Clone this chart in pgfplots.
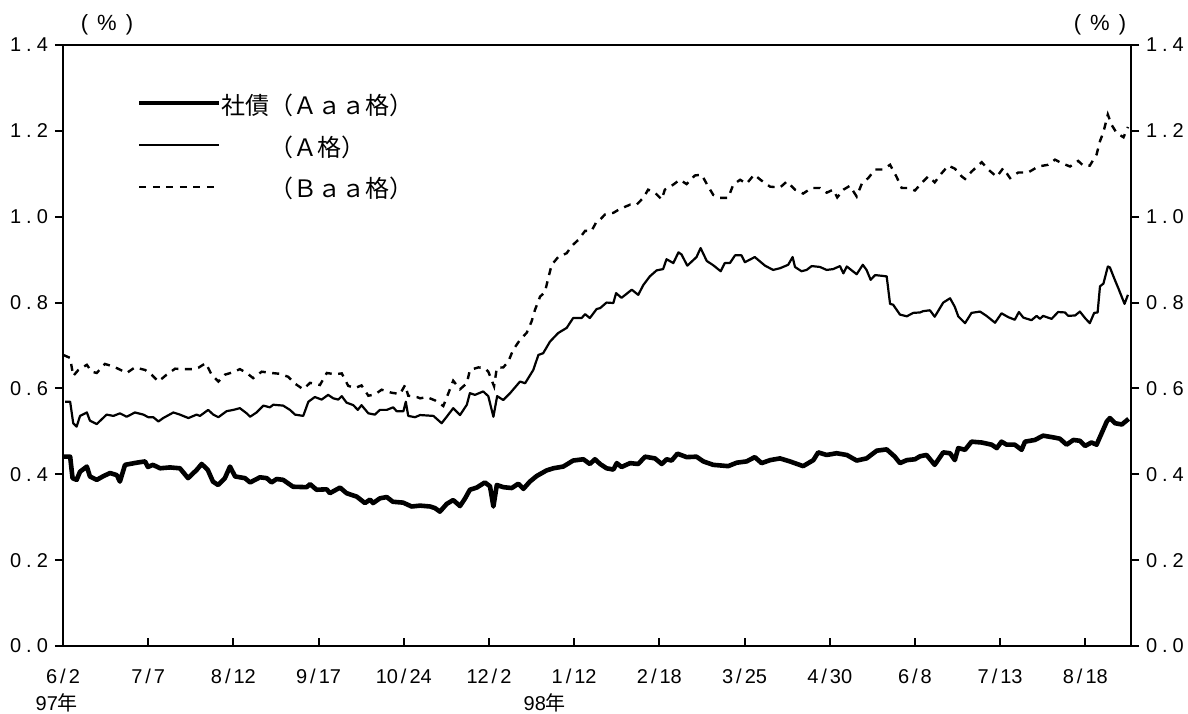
\documentclass[border=0pt]{standalone}
\usepackage{pgfplots}
\pgfplotsset{compat=1.18}
\usepackage{fontspec}
\setmainfont{Liberation Sans}
\newfontfamily\cjk{Noto Sans CJK JP}
\newcommand{\mydt}{\hspace{2.5pt}.\hspace{2.5pt}}
\newcommand{\mysl}{\hspace{1.5pt}/\hspace{1.5pt}}
\begin{document}
\begin{tikzpicture}
\begin{axis}[
  scale only axis, width=534pt, height=300.5pt,
  xmin=0, xmax=313.4, ymin=0, ymax=1.4,
  axis line style={line width=1.3pt},
  tick align=outside, major tick length=4pt,
  tick style={black, line width=1pt},
  xtick pos=bottom, ytick pos=both, yticklabel pos=left,
  xtick style={yshift=4pt},
  xtick={0,25,50,75,100,125,150,175,200,225,250,275,300},
  xticklabels={6\mysl 2,7\mysl 7,8\mysl 12,9\mysl 17,10\mysl 24,12\mysl 2,1\mysl 12,2\mysl 18,3\mysl 25,4\mysl 30,6\mysl 8,7\mysl 13,8\mysl 18},
  xticklabel style={anchor=center, yshift=-11pt, font=\fontsize{10}{11}\selectfont},
  ytick={0,0.2,0.4,0.6,0.8,1.0,1.2,1.4},
  yticklabels={0\mydt 0,0\mydt 2,0\mydt 4,0\mydt 6,0\mydt 8,1\mydt 0,1\mydt 2,1\mydt 4},
  yticklabel style={font=\fontsize{10}{11}\selectfont},
  legend style={at={(rel axis cs:0,1)}, anchor=north west, xshift=37pt, yshift=-18.5pt,
    draw=none, fill=none, inner sep=0pt, outer sep=0pt, row sep=0pt, column sep=0pt,
    nodes={inner sep=0pt, text height=16pt, text depth=5pt, font=\cjk\fontsize{12}{12}\selectfont},
    cells={anchor=west}},
  legend image code/.code={\path (0pt,-5.5pt); \draw[#1] (0pt,0pt) -- (40pt,0pt);},
  legend cell align=left,
  clip=false,
]
\addplot[black, line width=2.3pt, line join=round] coordinates {
(0,0.441)(2.1,0.441)(2.8,0.391)(4.0,0.387)(5.0,0.406)(7.0,0.418)(7.9,0.395)(9.9,0.387)(11.7,0.395)(13.8,0.403)
(15.8,0.398)(16.7,0.383)(18.2,0.422)(21.6,0.427)(24.1,0.430)(24.9,0.417)(26.4,0.422)(28.5,0.414)(31.4,0.416)(34.3,0.414)
(36.7,0.391)(39.2,0.410)(40.7,0.424)(42.5,0.410)(44.0,0.383)(45.5,0.375)(47.5,0.391)(49.0,0.418)(50.5,0.395)(51.9,0.393)
(53.4,0.391)(54.9,0.381)(57.8,0.393)(59.8,0.391)(61.2,0.381)(62.7,0.389)(64.6,0.387)(67.5,0.371)(71.5,0.370)(72.5,0.377)
(74.4,0.364)(77.4,0.365)(78.3,0.356)(81.3,0.369)(83.2,0.356)(86.2,0.348)(88.6,0.333)(90.1,0.341)(91.0,0.333)(93.0,0.344)
(95.0,0.347)(96.8,0.336)(99.8,0.334)(102.3,0.325)(104.8,0.327)(107.7,0.325)(109.2,0.321)(110.6,0.313)(112.6,0.331)(114.5,0.340)
(116.5,0.326)(118.0,0.344)(119.4,0.364)(121.4,0.369)(123.8,0.381)(125.3,0.372)(126.3,0.325)(127.3,0.375)(129.2,0.370)(131.7,0.368)
(133.6,0.378)(135.1,0.366)(137.0,0.383)(139.0,0.396)(141.9,0.409)(143.9,0.414)(146.8,0.418)(149.7,0.432)(152.7,0.435)(154.6,0.424)
(156.1,0.435)(157.6,0.424)(159.5,0.414)(161.5,0.411)(162.5,0.426)(163.9,0.417)(166.4,0.426)(168.8,0.424)(170.8,0.441)(173.7,0.437)
(175.7,0.424)(177.1,0.435)(178.6,0.432)(180.3,0.448)(183.0,0.440)(185.9,0.441)(187.9,0.430)(190.8,0.422)(195.2,0.419)(197.7,0.427)
(200.6,0.430)(203.0,0.440)(205.0,0.426)(207.5,0.433)(210.4,0.437)(213.3,0.430)(217.2,0.419)(220.2,0.433)(221.6,0.451)(224.1,0.445)
(227.0,0.449)(230.0,0.445)(232.9,0.432)(235.8,0.437)(238.8,0.455)(241.7,0.458)(244.1,0.441)(245.6,0.426)(247.6,0.433)(250.0,0.435)
(251.5,0.442)(253.4,0.445)(255.8,0.422)(258.3,0.451)(260.3,0.449)(261.7,0.433)(262.7,0.461)(264.7,0.457)(266.6,0.476)(269.6,0.474)
(272.5,0.469)(274.0,0.461)(275.4,0.476)(276.9,0.469)(279.3,0.469)(281.3,0.457)(282.3,0.476)(285.2,0.480)(287.6,0.490)(290.6,0.486)
(292.5,0.483)(294.5,0.469)(296.5,0.480)(298.4,0.478)(299.9,0.466)(301.8,0.474)(303.3,0.469)(304.8,0.496)(306.3,0.523)(307.2,0.531)
(308.7,0.519)(310.7,0.516)(312.7,0.529)
};
\addlegendentry{社債（Ａａａ格）}
\addplot[black, line width=1.1pt, line join=round] coordinates {
(0.6,0.569)(2.1,0.569)(3.0,0.519)(4.0,0.511)(5.0,0.536)(7.0,0.544)(7.9,0.525)(9.9,0.517)(12.8,0.539)(14.8,0.536)
(16.7,0.542)(18.7,0.534)(21.1,0.544)(23.6,0.539)(25.0,0.533)(26.5,0.533)(28.0,0.523)(29.4,0.531)(32.4,0.544)(34.3,0.539)
(36.8,0.531)(39.2,0.539)(40.2,0.536)(42.6,0.550)(44.1,0.539)(45.6,0.533)(48.0,0.547)(50.0,0.550)(51.9,0.554)(53.9,0.542)
(54.9,0.534)(56.8,0.544)(58.8,0.560)(60.7,0.556)(61.7,0.562)(64.6,0.560)(66.6,0.550)(68.1,0.539)(70.5,0.536)(72.0,0.569)
(73.9,0.580)(75.9,0.574)(77.8,0.585)(79.3,0.577)(80.8,0.574)(81.8,0.582)(83.2,0.567)(85.2,0.561)(86.5,0.550)(87.6,0.561)
(89.6,0.542)(91.5,0.539)(93.0,0.550)(95.0,0.550)(96.9,0.556)(97.9,0.547)(99.9,0.547)(100.6,0.569)(101.3,0.536)(103.3,0.533)
(104.8,0.538)(108.7,0.536)(111.1,0.519)(112.6,0.534)(114.5,0.554)(116.5,0.538)(118.5,0.562)(119.4,0.589)(120.9,0.585)(123.3,0.593)
(124.8,0.582)(126.3,0.534)(127.4,0.582)(129.2,0.573)(131.2,0.589)(134.1,0.616)(135.6,0.612)(138.0,0.643)(139.5,0.678)(140.9,0.682)
(142.9,0.709)(145.3,0.729)(147.8,0.741)(149.7,0.764)(152.2,0.764)(153.2,0.773)(154.6,0.764)(156.6,0.785)(157.6,0.787)(159.5,0.800)
(161.5,0.799)(162.3,0.822)(163.9,0.811)(166.9,0.830)(168.8,0.818)(170.3,0.841)(172.2,0.861)(174.2,0.875)(176.1,0.878)(177.1,0.901)
(179.1,0.892)(180.6,0.917)(181.5,0.912)(183.2,0.886)(185.9,0.906)(187.1,0.927)(188.9,0.897)(190.8,0.887)(193.0,0.873)(194.2,0.892)
(195.7,0.892)(197.2,0.910)(199.1,0.910)(200.1,0.894)(203.0,0.906)(206.0,0.886)(208.4,0.876)(210.4,0.880)(212.8,0.888)(214.1,0.906)
(214.8,0.883)(216.7,0.873)(218.2,0.876)(219.7,0.885)(222.1,0.883)(224.1,0.876)(226.0,0.878)(228.0,0.885)(229.0,0.868)(230.0,0.884)
(232.9,0.866)(234.7,0.888)(235.8,0.876)(237.0,0.853)(238.3,0.864)(240.7,0.862)(241.7,0.861)(242.7,0.797)(243.6,0.795)(245.6,0.772)
(247.6,0.768)(249.5,0.776)(251.5,0.777)(252.4,0.780)(254.4,0.782)(255.8,0.767)(258.3,0.800)(260.3,0.810)(261.7,0.790)(262.7,0.768)
(264.7,0.752)(266.6,0.776)(269.1,0.779)(271.0,0.769)(273.5,0.753)(275.4,0.775)(277.4,0.766)(279.3,0.760)(280.5,0.778)(281.8,0.765)
(284.2,0.759)(285.7,0.769)(286.7,0.762)(287.6,0.769)(290.1,0.762)(292.0,0.778)(294.0,0.777)(295.0,0.769)(297.0,0.770)(298.4,0.779)
(299.9,0.764)(301.3,0.752)(302.6,0.776)(303.6,0.777)(304.3,0.838)(305.3,0.844)(306.6,0.884)(307.2,0.882)(308.7,0.852)(309.7,0.833)
(311.5,0.797)(312.5,0.818)
};
\addlegendentry{\phantom{社債}（Ａ格）}
\addplot[black, line width=1.2pt, dash pattern=on 3.5pt off 3.25pt] coordinates {
(0.1,0.678)(2.1,0.671)(3.0,0.629)(4.5,0.643)(7.0,0.655)(8.4,0.639)(9.9,0.636)(12.3,0.657)(14.8,0.651)(17.2,0.642)
(18.7,0.636)(21.1,0.649)(24.1,0.643)(26.0,0.632)(28.0,0.616)(30.4,0.632)(32.9,0.646)(35.3,0.645)(37.8,0.645)(39.7,0.648)
(41.9,0.659)(43.6,0.632)(45.6,0.616)(47.5,0.632)(50.0,0.638)(51.9,0.645)(53.9,0.636)(55.8,0.624)(58.3,0.639)(61.2,0.636)
(63.7,0.634)(66.1,0.627)(68.1,0.611)(70.5,0.598)(72.5,0.613)(75.4,0.608)(77.4,0.636)(79.8,0.633)(81.8,0.635)(83.7,0.606)
(85.7,0.601)(87.6,0.607)(89.6,0.583)(91.5,0.586)(93.5,0.597)(96.4,0.590)(98.9,0.587)(100.4,0.608)(101.3,0.583)(103.8,0.580)
(104.8,0.577)(106.7,0.580)(109.2,0.572)(111.6,0.559)(113.1,0.589)(114.5,0.618)(116.5,0.598)(118.5,0.612)(119.4,0.643)(121.9,0.649)
(123.8,0.647)(124.8,0.639)(126.5,0.605)(127.3,0.648)(129.2,0.649)(130.7,0.663)(132.1,0.690)(134.1,0.713)(136.1,0.730)(137.5,0.756)
(138.5,0.783)(140.0,0.814)(141.4,0.824)(142.4,0.857)(143.4,0.888)(145.3,0.906)(147.8,0.915)(149.3,0.932)(151.2,0.946)(153.2,0.967)
(155.1,0.967)(156.6,0.989)(157.6,0.993)(159.0,1.005)(161.5,1.009)(163.4,1.018)(166.4,1.028)(168.3,1.028)(170.3,1.044)(171.7,1.063)
(173.7,1.056)(175.7,1.040)(176.6,1.063)(178.6,1.072)(181.0,1.086)(183.0,1.076)(185.4,1.096)(187.4,1.098)(189.0,1.075)(190.8,1.051)
(192.8,1.044)(195.2,1.044)(196.7,1.075)(198.7,1.086)(200.6,1.077)(202.8,1.098)(205.0,1.084)(207.5,1.070)(210.4,1.068)(212.4,1.082)
(214.8,1.063)(217.2,1.054)(219.7,1.067)(222.1,1.067)(224.1,1.056)(226.0,1.063)(227.2,1.045)(229.0,1.063)(230.9,1.072)(232.9,1.047)
(234.4,1.077)(236.3,1.090)(238.3,1.110)(240.7,1.110)(242.7,1.121)(244.6,1.093)(246.1,1.067)(248.0,1.067)(250.0,1.061)(252.0,1.079)
(253.9,1.094)(255.8,1.080)(257.8,1.101)(259.8,1.119)(261.7,1.112)(263.7,1.094)(264.7,1.088)(266.6,1.105)(269.6,1.127)(271.5,1.110)
(274.0,1.093)(275.9,1.113)(277.9,1.090)(280.3,1.103)(283.2,1.103)(286.2,1.117)(289.1,1.121)(291.1,1.133)(293.0,1.125)(295.5,1.117)
(297.9,1.130)(299.4,1.119)(301.3,1.119)(303.3,1.145)(304.3,1.176)(305.3,1.197)(306.6,1.238)(307.7,1.214)(309.2,1.195)(311.2,1.185)
(312.5,1.209)
};
\addlegendentry{\phantom{社債}（Ｂａａ格）}
\node[font=\fontsize{11}{12}\selectfont] at (rel axis cs:0,1) [xshift=22pt, yshift=10pt] {(\hspace{4.5pt}\%\hspace{4.5pt})};
\node[font=\fontsize{11}{12}\selectfont] at (rel axis cs:1,1) [xshift=-15.5pt, yshift=10pt] {(\hspace{4.5pt}\%\hspace{4.5pt})};
\node[font=\fontsize{10}{11}\selectfont] at (axis cs:-1.8,0) [yshift=-28.5pt] {97{\cjk 年}};
\node[font=\fontsize{10}{11}\selectfont] at (axis cs:141.4,0) [yshift=-28.5pt] {98{\cjk 年}};
\end{axis}
\begin{axis}[
  scale only axis, width=534pt, height=300.5pt,
  xmin=0, xmax=313.4, ymin=0, ymax=1.4,
  hide x axis,
  axis line style={line width=1.3pt},
  tick align=outside, major tick length=4pt,
  tick style={black, line width=1pt},
  ytick pos=right, yticklabel pos=right,
  ytick={0,0.2,0.4,0.6,0.8,1.0,1.2,1.4},
  yticklabels={0\mydt 0,0\mydt 2,0\mydt 4,0\mydt 6,0\mydt 8,1\mydt 0,1\mydt 2,1\mydt 4},
  yticklabel style={font=\fontsize{10}{11}\selectfont},
]
\end{axis}
\pgfresetboundingbox
\path (-31.5pt,-33.5pt) rectangle (562.5pt,323pt);
\end{tikzpicture}
\end{document}
